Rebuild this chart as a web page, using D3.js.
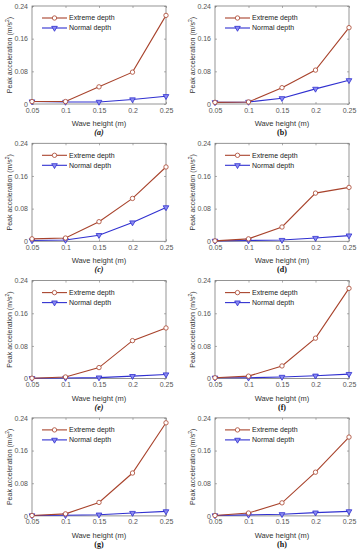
<!DOCTYPE html>
<html>
<head>
<meta charset="utf-8">
<script src="https://cdn.jsdelivr.net/npm/d3@7"></script>
<style>
  body { margin: 0; background: #fff; }
  svg { display: block; }
</style>
</head>
<body>
<div id="chart"></div>
<script>
var width = 359;
var height = 550;

// data
var waveHeights = [0.05, 0.1, 0.15, 0.2, 0.25];
var yTicks = [0, 0.08, 0.16, 0.24];
var seriesNames = ["Extreme depth", "Normal depth"];
var panelLetters = ["a", "b", "c", "d", "e", "f", "g", "h"];

var extremeA = [0.006, 0.006, 0.042, 0.078, 0.217];
var normalA  = [0.006, 0.005, 0.005, 0.011, 0.019];
var extremeB = [0.004, 0.005, 0.040, 0.083, 0.187];
var normalB  = [0.004, 0.005, 0.014, 0.037, 0.058];
var extremeC = [0.006, 0.008, 0.048, 0.105, 0.182];
var normalC  = [0.002, 0.003, 0.015, 0.046, 0.083];
var extremeD = [0.001, 0.006, 0.035, 0.118, 0.132];
var normalD  = [0.001, 0.002, 0.003, 0.008, 0.014];
var extremeE = [0.001, 0.004, 0.027, 0.093, 0.124];
var normalE  = [0.001, 0.0015, 0.0025, 0.006, 0.010];
var extremeF = [0.002, 0.006, 0.031, 0.099, 0.221];
var normalF  = [0.002, 0.002, 0.004, 0.007, 0.011];
var extremeG = [0.001, 0.005, 0.033, 0.105, 0.228];
var normalG  = [0.001, 0.0015, 0.003, 0.007, 0.011];
var extremeH = [0.001, 0.007, 0.032, 0.107, 0.193];
var normalH  = [0.001, 0.0025, 0.004, 0.008, 0.011];

var extremeAll = [extremeA, extremeB, extremeC, extremeD, extremeE, extremeF, extremeG, extremeH];
var normalAll  = [normalA, normalB, normalC, normalD, normalE, normalF, normalG, normalH];

var extremeColor = "#a8432c";
var normalColor = "#3030d0";
var axisColor = "#7a7a7a";
var labelColor = "#555";

var colLeft = [32, 215];
var plotW = 134;
var plotH = 98;
var rowTop = function(i) { return 6 + i * 137.3; };

var svg = d3.select("#chart")
            .append("svg")
            .attr("width", width)
            .attr("height", height)
            .style("font-family", "'Liberation Sans', Arial, sans-serif");

var lineGenerator = d3.line()
                    .x(d => d.x)
                    .y(d => d.y);

var triangle = d3.symbol().type(d3.symbolTriangle).size(14);

panelLetters.forEach(function(letter, k) {
    var col = k % 2;
    var row = Math.floor(k / 2);
    var x0 = colLeft[col];
    var y0 = rowTop(row);

    var x = d3.scaleLinear().domain([0.05, 0.25]).range([0, plotW]);
    var y = d3.scaleLinear().domain([0, 0.24]).range([plotH, 0]);

    var g = svg.append("g").attr("transform", "translate(" + x0 + "," + y0 + ")");

    // box
    g.append("rect")
        .attr("x", 0).attr("y", 0)
        .attr("width", plotW).attr("height", plotH)
        .attr("fill", "none")
        .attr("stroke", axisColor)
        .attr("stroke-width", 0.8);

    // x axis (ticks inward)
    var xAxis = d3.axisBottom(x).tickValues(waveHeights)
                .tickFormat(d => d3.format("")(+d.toFixed(2)))
                .tickSizeInner(-2).tickSizeOuter(0).tickPadding(5);
    var gx = g.append("g").attr("transform", "translate(0," + plotH + ")").call(xAxis);
    gx.select(".domain").remove();
    gx.selectAll("line").attr("stroke", axisColor).attr("stroke-width", 0.6);
    gx.selectAll("text").attr("fill", labelColor).style("font-size", "7px").attr("dy", "0.5em");

    var xTop = d3.axisTop(x).tickValues(waveHeights).tickFormat("").tickSizeInner(-2).tickSizeOuter(0);
    var gxt = g.append("g").call(xTop);
    gxt.select(".domain").remove();
    gxt.selectAll("line").attr("stroke", axisColor).attr("stroke-width", 0.6);

    // y axis
    var yAxis = d3.axisLeft(y).tickValues(yTicks)
                .tickFormat(d => d === 0 ? "0" : d3.format("")(+d.toFixed(2)))
                .tickSizeInner(-2).tickSizeOuter(0).tickPadding(4);
    var gy = g.append("g").call(yAxis);
    gy.select(".domain").remove();
    gy.selectAll("line").attr("stroke", axisColor).attr("stroke-width", 0.6);
    gy.selectAll("text").attr("fill", labelColor).style("font-size", "7px");

    var yRight = d3.axisRight(y).tickValues(yTicks).tickFormat("").tickSizeInner(-2).tickSizeOuter(0);
    var gyr = g.append("g").attr("transform", "translate(" + plotW + ",0)").call(yRight);
    gyr.select(".domain").remove();
    gyr.selectAll("line").attr("stroke", axisColor).attr("stroke-width", 0.6);

    // titles
    g.append("text")
        .attr("x", plotW / 2).attr("y", plotH + 22)
        .attr("text-anchor", "middle")
        .attr("fill", "#333")
        .style("font-size", "7.5px")
        .text("Wave height (m)");

    var yt = g.append("text")
        .attr("transform", "translate(" + (-20) + "," + (plotH / 2) + ") rotate(-90)")
        .attr("text-anchor", "middle")
        .attr("fill", "#333")
        .style("font-size", "7px");
    yt.append("tspan").text("Peak acceleration (m/s");
    yt.append("tspan").attr("baseline-shift", "super").style("font-size", "5px").text("2");
    yt.append("tspan").text(")");

    var italic = ["a", "c", "e"].indexOf(letter) >= 0;
    g.append("text")
        .attr("x", plotW / 2).attr("y", plotH + 31)
        .attr("text-anchor", "middle")
        .attr("fill", "#111")
        .style("font-family", "'Liberation Serif', 'Times New Roman', serif")
        .style("font-weight", "bold")
        .style("font-style", italic ? "italic" : "normal")
        .style("font-size", "8px")
        .text("(" + letter + ")");

    // series
    var ext = waveHeights.map((w, i) => ({x: x(w), y: y(extremeAll[k][i])}));
    var nor = waveHeights.map((w, i) => ({x: x(w), y: y(normalAll[k][i])}));

    g.append("path")
        .attr("d", lineGenerator(nor))
        .attr("fill", "none")
        .attr("stroke", normalColor)
        .attr("stroke-width", 1.1);
    g.selectAll(".norMark")
        .data(nor)
        .enter()
        .append("path")
        .attr("d", triangle)
        .attr("transform", d => "translate(" + d.x + "," + d.y + ") rotate(180)")
        .attr("fill", "#8a8af0")
        .attr("stroke", normalColor)
        .attr("stroke-width", 0.8);

    g.append("path")
        .attr("d", lineGenerator(ext))
        .attr("fill", "none")
        .attr("stroke", extremeColor)
        .attr("stroke-width", 1.1);
    g.selectAll(".extMark")
        .data(ext)
        .enter()
        .append("circle")
        .attr("cx", d => d.x)
        .attr("cy", d => d.y)
        .attr("r", 2.2)
        .attr("fill", "#fff")
        .attr("stroke", extremeColor)
        .attr("stroke-width", 0.8);

    // legend
    var legend = [
        {name: seriesNames[0], color: extremeColor, ty: 12},
        {name: seriesNames[1], color: normalColor, ty: 22}
    ];
    legend.forEach(function(l, i) {
        g.append("line")
            .attr("x1", 10).attr("x2", 35)
            .attr("y1", l.ty).attr("y2", l.ty)
            .attr("stroke", l.color)
            .attr("stroke-width", 1.1);
        if (i === 0) {
            g.append("circle")
                .attr("cx", 22.5).attr("cy", l.ty).attr("r", 2.2)
                .attr("fill", "#fff").attr("stroke", l.color).attr("stroke-width", 0.8);
        } else {
            g.append("path")
                .attr("d", triangle)
                .attr("transform", "translate(22.5," + l.ty + ") rotate(180)")
                .attr("fill", "#8a8af0").attr("stroke", l.color).attr("stroke-width", 0.8);
        }
        g.append("text")
            .attr("x", 37).attr("y", l.ty)
            .attr("dy", "0.35em")
            .attr("fill", "#222")
            .style("font-size", "7px")
            .text(l.name);
    });
});
</script>
</body>
</html>
